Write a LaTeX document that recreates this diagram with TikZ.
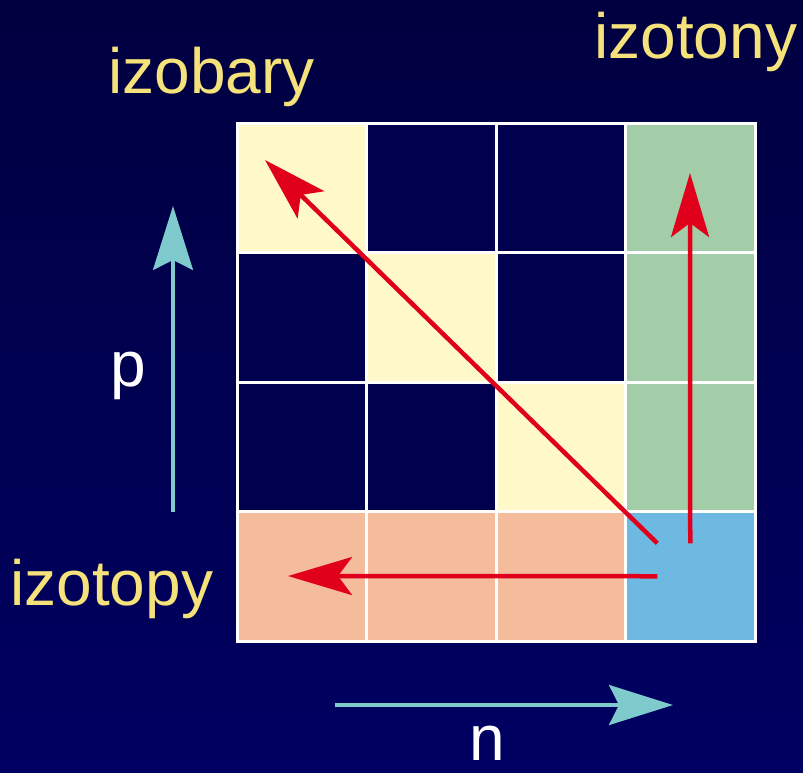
\documentclass[tikz,border=0pt]{standalone}
\usepackage{fontspec}
\setmainfont{Liberation Sans}
\usetikzlibrary{arrows.meta,calc}
\definecolor{bgtop}{HTML}{000040}
\definecolor{bgbot}{HTML}{000062}
\definecolor{cellnavy}{HTML}{00004F}
\definecolor{cellyellow}{HTML}{FFF9C9}
\definecolor{cellgreen}{HTML}{A2CDA8}
\definecolor{cellsalmon}{HTML}{F5BC9C}
\definecolor{cellblue}{HTML}{6EB9E2}
\definecolor{arrowred}{HTML}{E0001B}
\definecolor{axiscyan}{HTML}{7ECACC}
\definecolor{labelyellow}{HTML}{F6E27A}

\begin{document}
\begin{tikzpicture}[x=0.5pt,y=-0.5pt,
  cell/.style={draw=white,line width=1.5pt,minimum size=64.75pt,inner sep=0pt,outer sep=0pt},
  nuclide/.style={font=\fontsize{32}{38}\selectfont,text=labelyellow,inner sep=0pt,anchor=base west},
  axislabel/.style={font=\fontsize{32}{38}\selectfont,text=white,inner sep=0pt,anchor=base},
  redarrow/.style={draw=arrowred,line width=2.25pt,-{Stealth[length=32pt,width=19pt,inset=7pt]}},
  axisarrow/.style={draw=axiscyan,line width=1.6pt,-{Stealth[length=32pt,width=20pt,inset=5pt]}}]
% background
\shade[top color=bgtop,bottom color=bgbot] (0,0) rectangle (803,772);
\useasboundingbox (0,0) rectangle (803,772);
% 4x4 grid: column/row/colour
\foreach \cx/\cy/\cc in {1/1/cellyellow,2/1/cellnavy,3/1/cellnavy,4/1/cellgreen,
                         1/2/cellnavy,2/2/cellyellow,3/2/cellnavy,4/2/cellgreen,
                         1/3/cellnavy,2/3/cellnavy,3/3/cellyellow,4/3/cellgreen,
                         1/4/cellsalmon,2/4/cellsalmon,3/4/cellsalmon,4/4/cellblue}
  {\node[cell,fill=\cc] (c\cx\cy) at ({237+129.5*(\cx-0.5)},{123+129.5*(\cy-0.5)}) {};}
% red arrows out of the blue cell
\coordinate (barStart) at ($(c44)+(-33,-33)$);
\coordinate (barEnd) at (265,160);
\coordinate (tonStart) at ($(c44)+(0,-33)$);
\coordinate (tonEnd) at (690,173);
\coordinate (topStart) at ($(c44)+(-33,0)$);
\coordinate (topEnd) at (288,576);
\draw[redarrow] (barStart) -- (barEnd);
\draw[redarrow] (tonStart) -- (tonEnd);
\draw[redarrow] (topStart) -- (topEnd);
% p and n axes
\coordinate (pStart) at (173,512);
\coordinate (pEnd) at (173,206);
\coordinate (nStart) at (335,705);
\coordinate (nEnd) at (673,705);
\draw[axisarrow] (pStart) -- (pEnd);
\draw[axisarrow] (nStart) -- (nEnd);
\node[axislabel] (plabel) at (128,386) {p};
\node[axislabel] (nlabel) at (487,760) {n};
% labels
\node[nuclide] (izobary) at (108,93) {izobary};
\node[nuclide] (izotony) at (594,58) {izotony};
\node[nuclide] (izotopy) at (10,605) {izotopy};
\end{tikzpicture}
\end{document}
